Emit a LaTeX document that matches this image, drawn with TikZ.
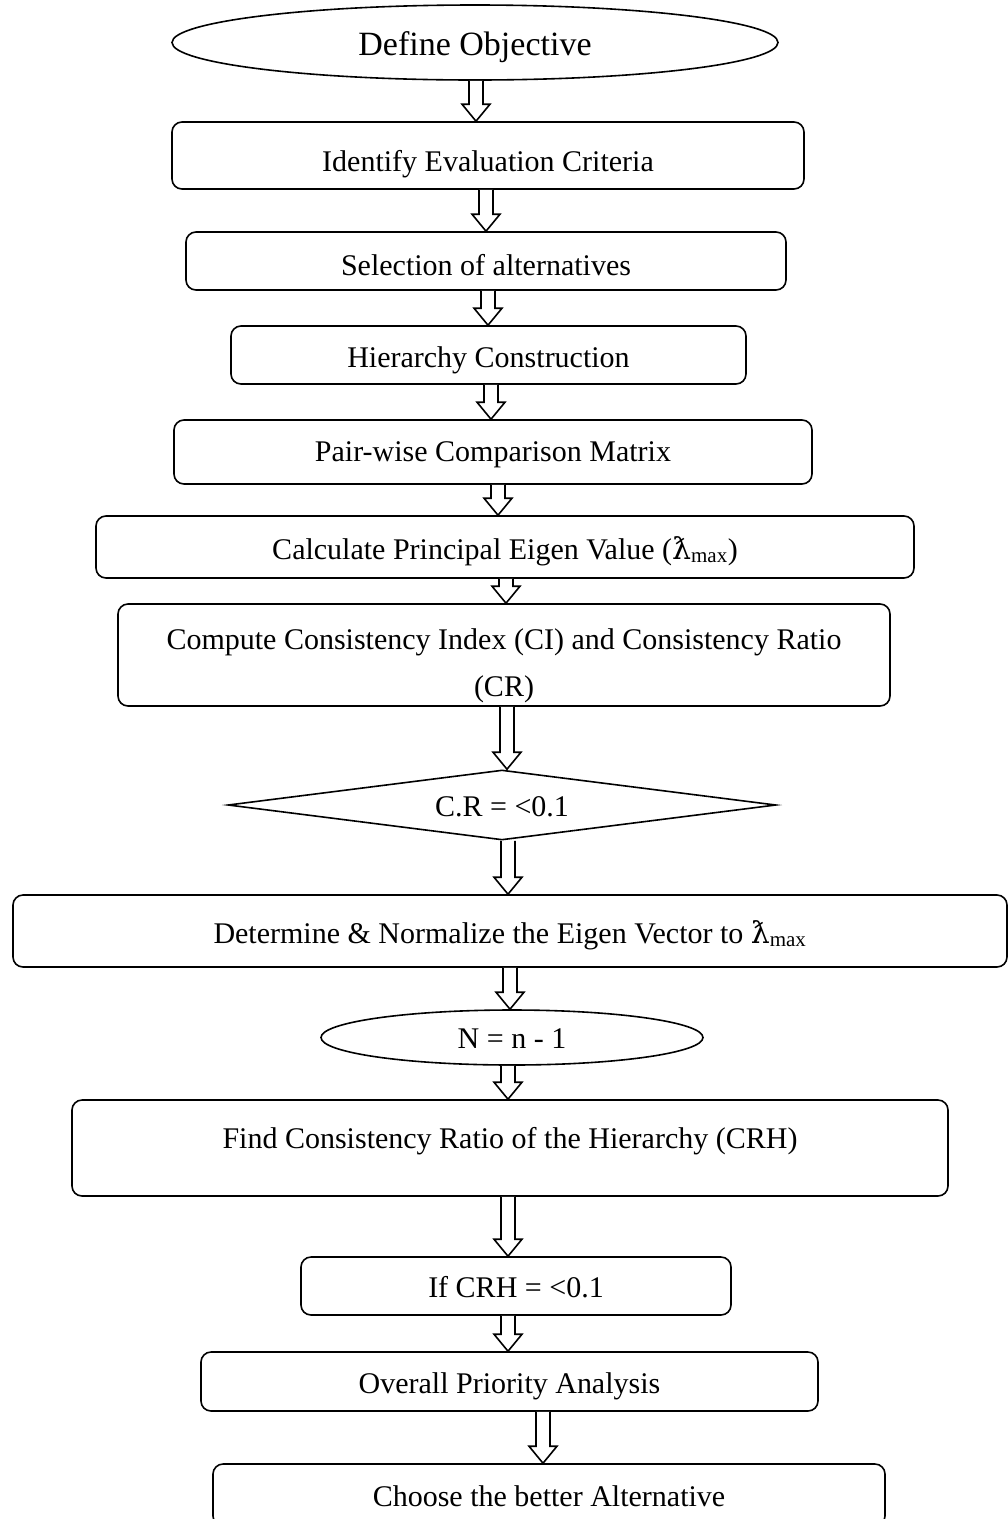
\documentclass[tikz,border=0pt]{standalone}
\usepackage{fontspec}
\setmainfont{Liberation Serif}
\newfontfamily\lamfont{DejaVu Serif}
\usetikzlibrary{calc,shapes.geometric}

% barred lambda with a "max" subscript
\newcommand\lmax{{\lamfont ƛ}\textsubscript{max}}

% hollow block arrow at horizontal position #1 (pt), from node #2 down to node #3
\newcommand\flowarrow[3]{%
  \draw[blockarrow] let \p1=(#2.south), \p2=(#3.north) in
    (#1pt-7pt,\y1) -- (#1pt-7pt,\y2+17pt) -- (#1pt-14pt,\y2+17pt) -- (#1pt,\y2)
    -- (#1pt+14pt,\y2+17pt) -- (#1pt+7pt,\y2+17pt) -- (#1pt+7pt,\y1);}

\tikzset{
  txt/.style={font=\fontsize{30}{47}\selectfont, inner sep=0pt, text height=28pt, text depth=6pt},
  stepbox/.style={txt, draw, line width=1.6pt, rounded corners=10pt},
  oval/.style={txt, draw, line width=1.6pt, ellipse},
  decision/.style={txt, draw, line width=1.6pt, diamond, aspect=7.8},
  blockarrow/.style={line width=1.6pt, line join=miter, fill=white},
}

\begin{document}
\begin{tikzpicture}[x=1pt, y=-1pt]
\useasboundingbox (0,0) rectangle (1008,1519);

\node[oval, minimum width=606pt, minimum height=75pt, font=\fontsize{34}{40}\selectfont, text height=31pt] (obj) at (475,42.5) {Define Objective};
\node[stepbox, minimum width=632pt, minimum height=67pt, text height=37pt] (crit) at (488,155.5) {Identify Evaluation Criteria};
\node[stepbox, minimum width=600pt, minimum height=58pt, text height=34pt] (alt) at (486,261) {Selection of alternatives};
\node[stepbox, minimum width=515pt, minimum height=58pt, text height=30pt] (hier) at (488.5,355) {Hierarchy Construction};
\node[stepbox, minimum width=638pt, minimum height=64pt, text height=25pt] (pair) at (493,452) {Pair-wise Comparison Matrix};
\node[stepbox, minimum width=818pt, minimum height=62pt, text height=30pt] (eig) at (505,547) {Calculate Principal Eigen Value (\lmax)};
\node[stepbox, minimum width=772pt, minimum height=102pt, text height=30pt, text depth=42pt] (ci) at (504,655)
  {\begin{tabular}[t]{@{}c@{}}Compute Consistency Index (CI) and Consistency Ratio\\(CR)\end{tabular}};
\node[decision, minimum width=548pt, minimum height=70pt] (cr) at (502,805) {C.R = \textless0.1};
\node[stepbox, minimum width=994pt, minimum height=72pt, text height=30pt] (norm) at (510,931) {Determine \& Normalize the Eigen Vector to \lmax};
\node[oval, minimum width=382pt, minimum height=55pt, text height=27pt] (nn) at (512,1037.5) {N = n - 1};
\node[stepbox, minimum width=876pt, minimum height=96pt, text height=22pt, text depth=22pt] (crh) at (510,1148) {Find Consistency Ratio of the Hierarchy (CRH)};
\node[stepbox, minimum width=430pt, minimum height=58pt] (ifcrh) at (516,1286) {If CRH = \textless0.1};
\node[stepbox, minimum width=617pt, minimum height=59pt, text height=29pt] (prio) at (509.5,1381.5) {Overall Priority Analysis};
\node[stepbox, minimum width=672pt, minimum height=62pt] (best) at (549,1495) {Choose the better Alternative};

\flowarrow{476}{obj}{crit}
\flowarrow{486}{crit}{alt}
\flowarrow{488}{alt}{hier}
\flowarrow{491}{hier}{pair}
\flowarrow{498}{pair}{eig}
\flowarrow{506}{eig}{ci}
\flowarrow{507}{ci}{cr}
\flowarrow{508}{cr}{norm}
\flowarrow{510}{norm}{nn}
\flowarrow{508}{nn}{crh}
\flowarrow{508}{crh}{ifcrh}
\flowarrow{508}{ifcrh}{prio}
\flowarrow{543}{prio}{best}
\end{tikzpicture}
\end{document}
